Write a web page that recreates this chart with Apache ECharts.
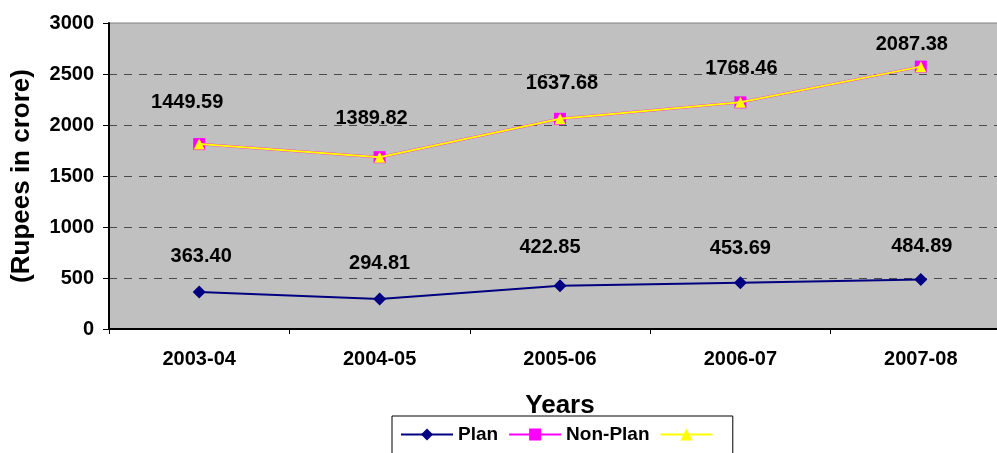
<!DOCTYPE html>
<html>
<head>
<meta charset="utf-8">
<script src="https://cdn.jsdelivr.net/npm/echarts@6/dist/echarts.min.js"></script>
<style>
  html, body { margin: 0; padding: 0; background: #ffffff; overflow: hidden; }
  #frame { width: 997px; height: 453px; overflow: hidden; position: relative; }
  /* the plot runs a little past the right edge of the frame */
  #chart { width: 1011px; height: 453px; position: absolute; left: 0; top: 0; }
</style>
</head>
<body>
<div id="frame"><div id="chart"></div></div>
<script>
// Expenditure by year (Rupees in crore)
const years = ['2003-04', '2004-05', '2005-06', '2006-07', '2007-08'];
const plan = [363.40, 294.81, 422.85, 453.69, 484.89];
const nonPlan = [1449.59, 1389.82, 1637.68, 1768.46, 2087.38];
const yTicks = { min: 0, max: 3000, step: 500 };

// Pixel nudges for the value labels (label centre relative to the marker)
const planLabelShift = [[2, -35], [0, -35], [-10, -38], [0, -34], [1, -33]];
const nonPlanLabelShift = [[-12, -42], [-8, -39], [2, -35], [1, -34], [-9, -22]];

// Combined line: Plan + Non-Plan for each year
const combined = plan.map((v, i) => +(v + nonPlan[i]).toFixed(2));

const FONT = "'Liberation Sans', Arial, Helvetica, sans-serif";
const labelText = { fontFamily: FONT, fontWeight: 'bold', fontSize: 20, color: '#000' };

function labelled(values, shifts) {
  return values.map((v, i) => ({
    value: v,
    label: { offset: shifts[i] }
  }));
}

const chart = echarts.init(document.getElementById('chart'), null, { renderer: 'canvas' });

chart.setOption({
  backgroundColor: '#ffffff',
  animation: false,
  grid: {
    left: 109,
    top: 23,
    right: 0,
    bottom: 124,
    show: true,
    backgroundColor: '#C0C0C0',
    borderColor: '#808080',
    borderWidth: 1
  },
  legend: {
    left: 392,
    top: 416,
    orient: 'horizontal',
    padding: [9, 10, 12, 8],
    itemGap: 10,
    itemWidth: 52,
    itemHeight: 15,
    backgroundColor: '#ffffff',
    borderColor: '#000000',
    borderWidth: 1,
    borderRadius: 0,
    textStyle: { fontFamily: FONT, fontWeight: 'bold', fontSize: 19, color: '#000' },
    data: ['Plan', 'Non-Plan', ' ']
  },
  xAxis: {
    type: 'category',
    data: years,
    boundaryGap: true,
    name: 'Years',
    nameLocation: 'middle',
    nameGap: 64,
    nameTextStyle: { fontFamily: FONT, fontWeight: 'bold', fontSize: 26, color: '#000' },
    axisLine: { show: true, lineStyle: { color: '#000', width: 2 } },
    axisTick: { show: true, inside: false, length: 5, alignWithLabel: false, lineStyle: { color: '#000', width: 1 } },
    axisLabel: Object.assign({ margin: 20 }, labelText),
    splitLine: { show: false }
  },
  yAxis: {
    type: 'value',
    min: yTicks.min,
    max: yTicks.max,
    interval: yTicks.step,
    name: '(Rupees in crore)',
    nameLocation: 'middle',
    nameRotate: 90,
    nameGap: 74,
    nameTextStyle: { fontFamily: FONT, fontWeight: 'bold', fontSize: 26, color: '#000' },
    axisLine: { show: true, lineStyle: { color: '#000', width: 2 } },
    axisTick: { show: true, inside: false, length: 6, lineStyle: { color: '#000', width: 1 } },
    axisLabel: Object.assign({ margin: 15, formatter: v => String(v) }, labelText),
    splitLine: {
      show: true,
      showMinLine: false,
      showMaxLine: false,
      lineStyle: { color: '#4a4a4a', width: 1, type: [8, 7] }
    }
  },
  series: [
    {
      name: 'Plan',
      type: 'line',
      stack: 'spend',
      data: labelled(plan, planLabelShift),
      symbol: 'diamond',
      symbolSize: 13,
      itemStyle: { color: '#000080' },
      lineStyle: { color: '#000080', width: 2 },
      label: Object.assign({
        show: true,
        position: 'inside',
        formatter: p => plan[p.dataIndex].toFixed(2)
      }, labelText),
      z: 3
    },
    {
      name: 'Non-Plan',
      type: 'line',
      stack: 'spend',
      data: labelled(nonPlan, nonPlanLabelShift),
      symbol: 'rect',
      symbolSize: 12,
      itemStyle: { color: '#FF00FF' },
      lineStyle: { color: '#FF00FF', width: 2.5 },
      label: Object.assign({
        show: true,
        position: 'inside',
        formatter: p => nonPlan[p.dataIndex].toFixed(2)
      }, labelText),
      z: 4
    },
    {
      name: ' ',
      type: 'line',
      data: combined,
      symbol: 'triangle',
      symbolSize: 11,
      itemStyle: { color: '#FFFF00' },
      lineStyle: { color: '#FFFF00', width: 2 },
      label: { show: false },
      z: 5
    }
  ]
});
</script>
</body>
</html>
